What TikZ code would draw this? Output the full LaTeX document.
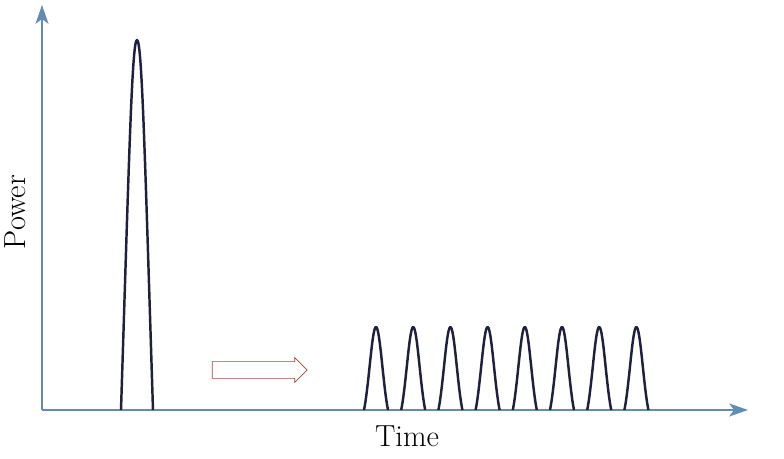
\documentclass[tikz,border=0pt]{standalone}
\usepackage{tikz}
\usetikzlibrary{positioning,arrows.meta,shapes.arrows}
\definecolor{axisblue}{RGB}{98,140,180}
\definecolor{pulsenavy}{RGB}{30,32,62}
\definecolor{arrowred}{RGB}{160,70,60}
\tikzstyle{axis}=[line width=1.8pt, axisblue, -{Stealth[length=16pt,width=11pt,inset=4pt]}]
\tikzstyle{pulse}=[line width=2.1pt, pulsenavy, line join=round]
\tikzstyle{shiftarrow}=[single arrow, draw=arrowred, line width=0.6pt, fill=white, minimum height=2.85cm, single arrow head extend=0.12cm, inner xsep=0pt, inner ysep=0.24cm]
\tikzstyle{label}=[font=\fontsize{26}{30}\selectfont, inner sep=0pt]

\begin{document}
\begin{tikzpicture}[x=0.03cm, y=-0.03cm]
    \useasboundingbox (0,0) rectangle (784,459);

    \coordinate (origin) at (42,410);
    \coordinate (ytop) at (42,5);
    \coordinate (xend) at (748,410);

%axes
   \draw[axis] (origin) -- (ytop);
   \draw[axis] (origin) -- (xend);

    \node (power) [label, rotate=90] at (15,212) {Power};
    \node (time) [label] at (407,436) {Time};

%single strong pulse
   \draw[pulse] (121,410) .. controls (129,160) and (132,40) .. (137,40)
                .. controls (142,40) and (145,160) .. (153,410);

%pulse train
   \foreach \px in {376,413.2,450.4,487.6,524.8,562,599.2,636.4}
   {
   \draw[pulse] (\px-12,410) .. controls (\px-7,385) and (\px-4,327) .. (\px,327)
                .. controls (\px+4,327) and (\px+7,385) .. (\px+12,410);
   }

    \node (shift) [shiftarrow] at (255.5,370) {};

\end{tikzpicture}
\end{document}
